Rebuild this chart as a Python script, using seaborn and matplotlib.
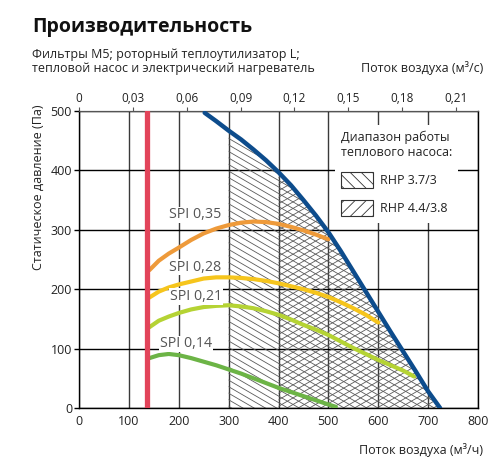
import numpy as np
import matplotlib
matplotlib.use("Agg")
import matplotlib.pyplot as plt
from matplotlib.collections import LineCollection
from matplotlib.patches import Patch
import seaborn as sns

# airflow (m3/h) and static pressure (Pa)
fan_x = [252, 275, 300, 325, 350, 375, 400, 425, 450, 475, 500,
         525, 550, 575, 600, 625, 650, 675, 700, 724]
fan_y = [497, 483, 467, 452, 435, 417, 397, 375, 350, 324, 296,
         264, 230, 196, 162, 128, 95, 62, 28, 0]

spi35_x = [141, 160, 180, 200, 225, 250, 275, 300, 325, 350, 375, 400, 425, 450, 475, 500]
spi35_y = [232, 248, 260, 270, 283, 294, 302, 308, 312, 314, 313, 310, 305, 299, 292, 284]

spi28_x = [141, 160, 180, 200, 225, 250, 275, 300, 325, 350, 375, 400, 425, 450,
           475, 500, 525, 550, 575, 600]
spi28_y = [186, 196, 203, 208, 213, 218, 220, 220, 219, 217, 214, 210, 205, 200,
           194, 187, 178, 168, 157, 144]

spi21_x = [141, 160, 180, 200, 225, 250, 275, 300, 325, 350, 375, 400, 425, 450,
           475, 500, 525, 550, 575, 600, 625, 650, 672]
spi21_y = [136, 147, 154, 160, 166, 170, 172, 173, 171, 168, 163, 157, 149, 140,
           132, 123, 112, 101, 91, 81, 72, 63, 53]

spi14_x = [141, 160, 180, 200, 225, 250, 275, 300, 325, 350, 375, 400, 425, 450, 475, 500, 515]
spi14_y = [84, 89, 91, 89, 84, 78, 72, 65, 58, 50, 42, 34, 27, 20, 13, 6, 2]

spi_labels = ["SPI 0,35", "SPI 0,28", "SPI 0,21", "SPI 0,14"]
min_flow = 136

rhp_labels = ["RHP 3.7/3", "RHP 4.4/3.8"]
rhp_start = [300, 400]

x_ticks = [0, 100, 200, 300, 400, 500, 600, 700, 800]
y_ticks = [0, 100, 200, 300, 400, 500]
top_ticks = [0, 0.03, 0.06, 0.09, 0.12, 0.15, 0.18, 0.21]
top_labels = ["0", "0,03", "0,06", "0,09", "0,12", "0,15", "0,18", "0,21"]

sns.set_style("white")
plt.rcParams["font.family"] = ["Open Sans", "DejaVu Sans"]
plt.rcParams["hatch.linewidth"] = 0.6

fig = plt.figure(figsize=(5, 4.69), dpi=100)
ax = fig.add_axes([0.158, 0.130, 0.798, 0.6333])
ax.set_xlim(0, 800)
ax.set_ylim(0, 500)
ax.set_axisbelow(True)

ax.set_xticks(x_ticks)
ax.set_yticks(y_ticks)
ax.xaxis.grid(True, color="#3a3a3a", lw=1)
ax.yaxis.grid(True, color="black", lw=1)
ax.tick_params(axis="x", bottom=True, length=0, pad=5, labelsize=9, labelcolor="#222")
ax.tick_params(axis="y", left=True, direction="out", length=3.5, width=1,
               color="black", pad=1.5, labelsize=9, labelcolor="#222")
for s in ["left", "bottom", "right"]:
    ax.spines[s].set_color("black")
    ax.spines[s].set_linewidth(1)
ax.spines["top"].set_color("#555")

# top axis in m3/s
sec = ax.secondary_xaxis("top", functions=(lambda v: v / 3600, lambda v: v * 3600))
sec.set_ticks(top_ticks, labels=top_labels)
sec.tick_params(direction="out", length=3, width=0.8, color="#555", pad=1.5,
                labelsize=8.5, labelcolor="#222")
for sp in sec.spines.values():
    sp.set_color("#555")

# heat pump ranges: hatched areas under the fan curve
fx = np.array(fan_x)
fy = np.array(fan_y)
k = 0.487
step = 11
hatch_dirs = [-1, 1]
for start, sgn in zip(rhp_start, hatch_dirs):
    area = ax.fill_between(fx, 0, fy, where=fx >= start, facecolor="none",
                           edgecolor="none", lw=0)
    cs = np.arange(-500, 900, step)
    segs = [[(0, c), (800, c + sgn * k * 800)] for c in cs]
    lc = LineCollection(segs, colors="#5a5a5a", linewidths=0.6, zorder=1)
    ax.add_collection(lc)
    lc.set_clip_path(area.get_paths()[0], ax.transData)

# SPI curves
spi_sets = [(spi35_x, spi35_y, "#ee9a3a"), (spi28_x, spi28_y, "#f6c51c"),
            (spi21_x, spi21_y, "#b5d334"), (spi14_x, spi14_y, "#6cb446")]
for xs, ys, col in spi_sets:
    sns.lineplot(x=xs, y=ys, ax=ax, color=col, lw=3, sort=False,
                 estimator=None, zorder=3)

sns.lineplot(x=fan_x, y=fan_y, ax=ax, color="#0d4c8c", lw=3.2, sort=False,
             estimator=None, zorder=4)
ax.axvline(min_flow, color="#e2445a", lw=3.8, zorder=4)

label_pos = [(180, 325), (180, 237), (182, 188), (162, 108)]
for txt, (px, py) in zip(spi_labels, label_pos):
    ax.text(px, py, txt, fontsize=10.3, color="#555", va="center", ha="left",
            zorder=3, bbox=dict(facecolor="white", edgecolor="none", pad=0.5))

handles = [Patch(facecolor="white", edgecolor="#333", hatch="\\\\\\", lw=0.8),
           Patch(facecolor="white", edgecolor="#333", hatch="///", lw=0.8)]
leg = ax.legend(handles=handles, labels=rhp_labels,
                title="Диапазон работы\nтеплового насоса:",
                loc="upper left", bbox_to_anchor=(0.625, 0.975),
                frameon=True, fancybox=False, framealpha=1, edgecolor="none",
                facecolor="white", fontsize=9, title_fontsize=9,
                handlelength=2.6, handleheight=1.6, handletextpad=0.55,
                labelspacing=1.0, borderpad=0.5, alignment="left")
leg.get_title().set_color("#222")
for t in leg.get_texts():
    t.set_color("#222")

fig.text(32 / 500, 1 - 32 / 469, "Производительность", fontsize=14,
         fontweight="bold", color="#111", va="baseline")
fig.text(32 / 500, 1 - 58 / 469, "Фильтры M5; роторный теплоутилизатор L;",
         fontsize=9, color="#222", va="baseline")
fig.text(32 / 500, 1 - 72 / 469, "тепловой насос и электрический нагреватель",
         fontsize=9, color="#222", va="baseline")
fig.text(483 / 500, 1 - 72 / 469, "Поток воздуха (м³/с)", fontsize=9,
         color="#222", va="baseline", ha="right")
fig.text(483 / 500, 1 - 454 / 469, "Поток воздуха (м³/ч)", fontsize=9,
         color="#222", va="baseline", ha="right")
fig.text(38 / 500, 1 - 105 / 469, "Статическое давление (Па)", fontsize=9,
         color="#222", rotation=90, ha="center", va="top")

fig.savefig("out.png", dpi=100)
